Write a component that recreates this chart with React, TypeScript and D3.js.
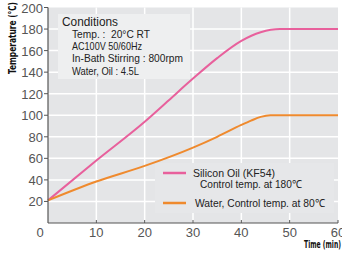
import { useEffect, useRef } from 'react';
import * as d3 from 'd3';

// values
const oilMinutes = [0, 10, 20, 25, 30, 35, 40, 44, 48, 60];
const oilTemp = [21, 58, 94, 114, 134, 153, 169, 177, 180, 180];
const waterMinutes = [0, 10, 20, 30, 35, 40, 42, 44, 46, 60];
const waterTemp = [21, 38.5, 53, 70, 80, 91, 95, 98.5, 100, 100];

const xTicks = [0, 10, 20, 30, 40, 50, 60];
const yTicks = [20, 40, 60, 80, 100, 120, 140, 160, 180, 200];

const conditionLines = ['Temp. :  20°C RT', 'AC100V 50/60Hz', 'In-Bath Stirring : 800rpm', 'Water, Oil : 4.5L'];
const oilLabel = ['Silicon Oil (KF54)', 'Control temp. at 180℃'];
const waterLabel = ['Water, Control temp. at 80℃'];

const W = 342, H = 253;

const buildChart = (node) => {
  const svg = d3.select(node);
  svg.selectAll('*').remove();

  const x = d3.scaleLinear().domain([0, 60]).range([48, 338]);
  const y = d3.scaleLinear().domain([0, 200]).range([223, 7.5]);

  const font = '"Liberation Sans", Arial, sans-serif';

  // plot background
  svg.append('rect')
    .attr('x', x(0)).attr('y', y(200))
    .attr('width', x(60) - x(0)).attr('height', y(0) - y(200))
    .attr('fill', '#e4e5e7');

  // white grid
  svg.append('g').selectAll('line')
    .data(xTicks.filter(d => d > 0 && d < 60))
    .enter().append('line')
    .attr('x1', d => x(d)).attr('x2', d => x(d))
    .attr('y1', y(200)).attr('y2', y(0))
    .attr('stroke', '#fff').attr('stroke-width', 1.5);
  svg.append('g').selectAll('line')
    .data(yTicks.filter(d => d < 200))
    .enter().append('line')
    .attr('x1', x(0)).attr('x2', x(60))
    .attr('y1', d => y(d)).attr('y2', d => y(d))
    .attr('stroke', '#fff').attr('stroke-width', 1.5);

  // conditions box
  svg.append('rect')
    .attr('x', 58).attr('y', 14).attr('width', 132).attr('height', 65)
    .attr('fill', '#eeeff0');
  svg.append('text')
    .attr('x', 62).attr('y', 26)
    .attr('font-family', font).attr('font-size', 12).attr('fill', '#222')
    .attr('textLength', 56).attr('lengthAdjust', 'spacingAndGlyphs')
    .text('Conditions');
  const condWidths = [78, 70, 111, 67];
  svg.append('g').selectAll('text')
    .data(conditionLines)
    .enter().append('text')
    .attr('x', 72).attr('y', (d, i) => 38 + i * 12.2)
    .attr('font-family', font).attr('font-size', 11).attr('fill', '#222')
    .attr('textLength', (d, i) => condWidths[i]).attr('lengthAdjust', 'spacingAndGlyphs')
    .attr('xml:space', 'preserve')
    .text(d => d);

  // legend box (hides grid behind it)
  svg.append('rect')
    .attr('x', 155).attr('y', 163).attr('width', 179).attr('height', 50)
    .attr('fill', '#e6e7e9');

  // series
  const line = d3.line().curve(d3.curveMonotoneX);
  svg.append('path')
    .attr('d', line(oilMinutes.map((m, i) => [x(m), y(oilTemp[i])])))
    .attr('fill', 'none').attr('stroke', '#e8609c').attr('stroke-width', 2);
  svg.append('path')
    .attr('d', line(waterMinutes.map((m, i) => [x(m), y(waterTemp[i])])))
    .attr('fill', 'none').attr('stroke', '#ef8a2e').attr('stroke-width', 2);

  // legend
  const legend = svg.append('g');
  legend.append('line').attr('x1', 163).attr('x2', 186).attr('y1', 173).attr('y2', 173)
    .attr('stroke', '#e8609c').attr('stroke-width', 2.5);
  legend.append('text').attr('x', 193).attr('y', 177)
    .attr('font-family', font).attr('font-size', 11).attr('fill', '#222')
    .attr('textLength', 82).attr('lengthAdjust', 'spacingAndGlyphs')
    .text(oilLabel[0]);
  legend.append('text').attr('x', 200).attr('y', 188)
    .attr('font-family', font).attr('font-size', 11).attr('fill', '#222')
    .attr('textLength', 102).attr('lengthAdjust', 'spacingAndGlyphs')
    .text(oilLabel[1]);
  legend.append('line').attr('x1', 163).attr('x2', 186).attr('y1', 203).attr('y2', 203)
    .attr('stroke', '#ef8a2e').attr('stroke-width', 2.5);
  legend.append('text').attr('x', 195).attr('y', 207)
    .attr('font-family', font).attr('font-size', 11).attr('fill', '#222')
    .attr('textLength', 130).attr('lengthAdjust', 'spacingAndGlyphs')
    .text(waterLabel[0]);

  // axes
  svg.append('line')
    .attr('x1', x(0)).attr('x2', x(0)).attr('y1', y(200)).attr('y2', y(0))
    .attr('stroke', '#555').attr('stroke-width', 1.2);
  svg.append('line')
    .attr('x1', x(0)).attr('x2', x(60)).attr('y1', y(0)).attr('y2', y(0))
    .attr('stroke', '#555').attr('stroke-width', 1.2);

  // y ticks
  const yg = svg.append('g');
  yg.selectAll('line').data(yTicks).enter().append('line')
    .attr('x1', x(0) - 4).attr('x2', x(0)).attr('y1', d => y(d)).attr('y2', d => y(d))
    .attr('stroke', '#555').attr('stroke-width', 1);
  yg.selectAll('text').data(yTicks).enter().append('text')
    .attr('x', x(0) - 5).attr('y', d => y(d) + 5)
    .attr('text-anchor', 'end')
    .attr('font-family', font).attr('font-size', 13).attr('fill', '#555')
    .text(d => d);

  // x ticks
  const xg = svg.append('g');
  xg.selectAll('line').data(xTicks.filter(d => d > 0)).enter().append('line')
    .attr('x1', d => x(d)).attr('x2', d => x(d)).attr('y1', y(0) - 3).attr('y2', y(0))
    .attr('stroke', '#555').attr('stroke-width', 1);
  xg.selectAll('text').data(xTicks).enter().append('text')
    .attr('x', d => (d === 0 ? x(d) - 8 : x(d)))
    .attr('y', 237)
    .attr('text-anchor', 'middle')
    .attr('font-family', font).attr('font-size', 13).attr('fill', '#555')
    .text(d => d);

  // axis titles
  svg.append('text')
    .attr('transform', 'translate(16, 38) rotate(-90)')
    .attr('text-anchor', 'middle')
    .attr('font-family', '"DejaVu Sans Condensed", "DejaVu Sans", sans-serif')
    .attr('font-weight', 'bold').attr('font-size', 11).attr('fill', '#111')
    .attr('textLength', 72).attr('lengthAdjust', 'spacingAndGlyphs')
    .text('Temperature (℃)');
  svg.append('text')
    .attr('x', 304).attr('y', 248)
    .attr('font-family', '"DejaVu Sans Condensed", "DejaVu Sans", sans-serif')
    .attr('font-weight', 'bold').attr('font-size', 10).attr('fill', '#111')
    .attr('textLength', 37).attr('lengthAdjust', 'spacingAndGlyphs')
    .text('Time (min)');
};

const App = () => {
  const ref = useRef(null);

  useEffect(() => {
    buildChart(ref.current);
  }, []);

  return (
    <div style={{ position: 'absolute', left: 0, top: 0, width: W, height: H, background: '#fff' }}>
      <svg ref={ref} width={W} height={H} viewBox={`0 0 ${W} ${H}`} style={{ display: 'block' }} />
    </div>
  );
};

export default App;
